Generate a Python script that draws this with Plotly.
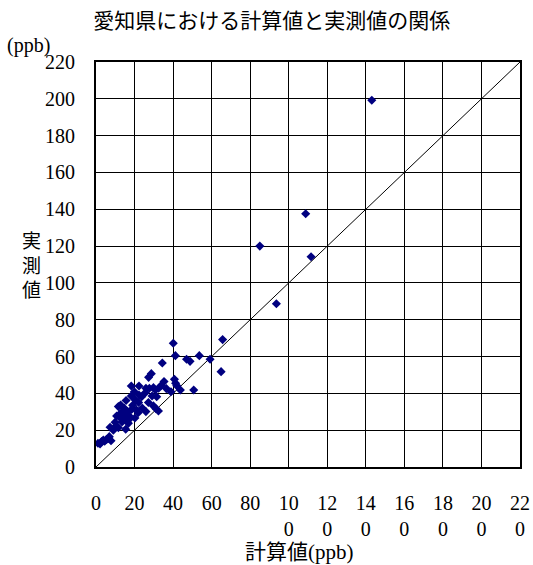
import plotly.graph_objects as go

# Calculated vs. measured concentrations (ppb), Aichi Prefecture
calc = [1.0, 2.1, 2.9, 3.8, 5.5, 6.9, 7.8, 6.5, 4.5,
        7.3, 10.4, 11.6, 9.9, 15.4, 16.8, 10.7, 12.5, 15.1, 17.6, 20.2,
        14.2, 11.6, 12.8, 14.7, 18.5, 16.4, 21.9, 25.9, 32.4, 31.1,
        29.8, 27.2, 22.1, 20.4, 15.6, 18.3, 22.3, 23.7, 29.1, 31.5,
        25.6, 19.9, 18.3, 22.3, 25.9, 27.7, 29.8, 30.8, 32.5, 27.3,
        28.7, 33.7, 35.3, 36.5, 38.9, 34.4, 40.7, 41.3, 41.9, 43.8,
        50.7, 40.1, 41.2, 47.0, 48.8, 53.6, 59.2, 64.9, 65.7,
        85.0, 93.6, 108.8, 111.6, 143.1,
        13.5, 19.0, 24.0, 17.0, 21.0, 9.0, 13.0]
meas = [12.9, 12.5, 13.8, 14.7, 15.0, 16.5, 14.3, 15.5, 14.0,
        21.6, 22.3, 21.4, 24.3, 20.5, 23.7, 27.7, 26.8, 25.9, 26.3, 26.6,
        29.2, 32.8, 33.7, 31.9, 31.3, 30.1, 29.5, 30.1, 30.4, 31.7,
        33.2, 35.0, 35.0, 36.4, 36.1, 38.6, 39.1, 38.2, 38.6, 38.2,
        40.4, 40.9, 44.0, 44.0, 42.8, 42.8, 43.1, 41.8, 42.8, 48.7,
        50.7, 44.2, 46.4, 42.6, 40.9, 56.5, 47.6, 45.5, 44.2, 41.8,
        41.8, 67.2, 60.5, 58.5, 57.4, 60.5, 58.5, 51.8, 69.2,
        120.0, 88.7, 137.6, 114.2, 199.2,
        24.5, 33.5, 32.0, 28.0, 31.0, 20.0, 29.5]

tick_vals = [0, 20, 40, 60, 80, 100, 120, 140, 160, 180, 200, 220]
x_tick_text = ["0", "20", "40", "60", "80", "10<br>0", "12<br>0", "14<br>0",
               "16<br>0", "18<br>0", "20<br>0", "22<br>0"]
ref_line = [0, 220]

FONT = "Liberation Serif, 'Noto Sans CJK JP', serif"

fig = go.Figure()

# 1:1 reference line
fig.add_trace(go.Scatter(
    x=ref_line, y=ref_line, mode="lines",
    line=dict(color="black", width=1), hoverinfo="skip", showlegend=False,
))

fig.add_trace(go.Scatter(
    x=calc, y=meas, mode="markers",
    marker=dict(symbol="diamond", size=7, color="#000080",
                line=dict(width=0)),
    showlegend=False,
))

axis_common = dict(
    range=[0, 220], tickvals=tick_vals, automargin=False,
    showgrid=True, gridcolor="black", gridwidth=1,
    showline=True, linecolor="black", linewidth=2, mirror=True,
    zeroline=False, ticks="",
    tickfont=dict(family=FONT, size=20, color="black"),
)

fig.update_xaxes(**axis_common, ticktext=x_tick_text, ticklabelstandoff=17)
fig.update_yaxes(**axis_common, ticklabelstandoff=15)

fig.update_layout(
    width=533, height=565,
    margin=dict(l=96, r=13, t=62, b=98, autoexpand=False),
    paper_bgcolor="white", plot_bgcolor="white",
    font=dict(family=FONT, size=20, color="black"),
    title=dict(text="愛知県における計算値と実測値の関係",
               x=0.51, xanchor="center", y=0.964, yanchor="middle",
               font=dict(size=21)),
    annotations=[
        dict(text="(ppb)", xref="paper", yref="paper", x=-0.215, y=1.04,
             xanchor="left", yanchor="middle", showarrow=False,
             font=dict(size=20)),
        dict(text="実<br>測<br>値", xref="paper", yref="paper", x=-0.153, y=0.496,
             xanchor="center", yanchor="middle", showarrow=False,
             font=dict(size=19)),
        dict(text="計算値(ppb)", xref="paper", yref="paper", x=0.48, y=-0.21,
             xanchor="center", yanchor="middle", showarrow=False,
             font=dict(size=21)),
    ],
)

fig.write_html("out.html")
